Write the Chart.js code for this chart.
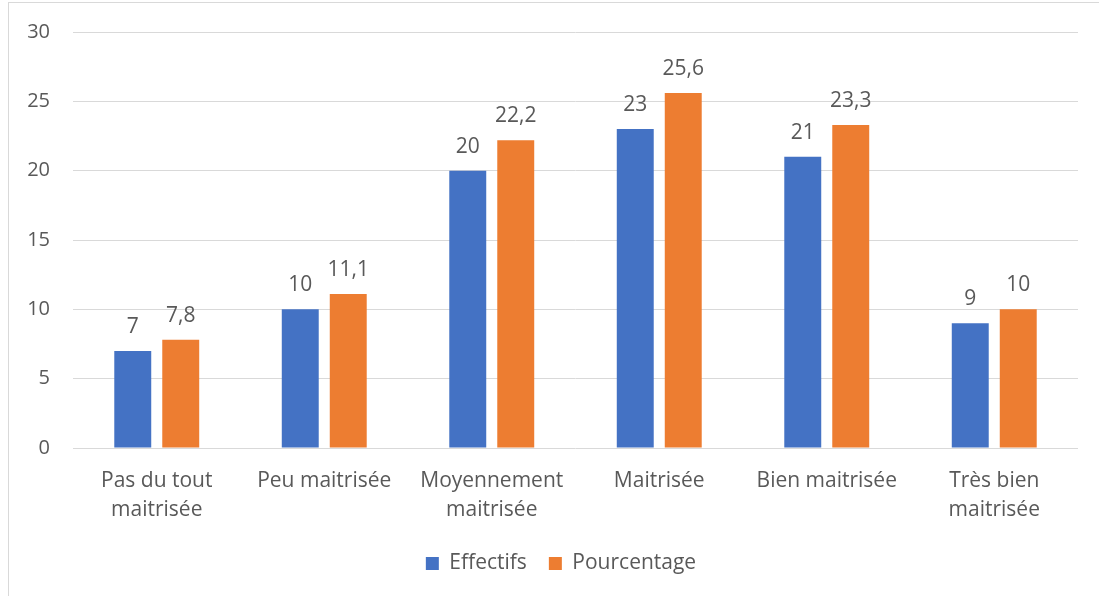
<!DOCTYPE html>
<html>
<head>
<meta charset="utf-8">
<script src="https://cdn.jsdelivr.net/npm/chart.js@4/dist/chart.umd.min.js"></script>
<style>
    html, body { margin: 0; padding: 0; background: #fff; overflow: hidden; }
    #wrap { position: relative; width: 1099px; height: 596px; }
    #frame { position: absolute; left: 8px; top: 2px; width: 2000px; height: 2000px; border: 1px solid #d9d9d9; }
    canvas { position: absolute; left: 0; top: 0; }
</style>
</head>
<body>
<div id="wrap">
    <div id="frame"></div>
    <canvas id="myChart" width="1099" height="596"></canvas>
</div>
<script>
const categories = [
    ['Pas du tout', 'maitrisée'],
    'Peu maitrisée',
    ['Moyennement', 'maitrisée'],
    'Maitrisée',
    'Bien maitrisée',
    ['Très bien', 'maitrisée']
];
const effectifs = [7, 10, 20, 23, 21, 9];
const pourcentage = [7.8, 11.1, 22.2, 25.6, 23.3, 10];
const yTicks = [0, 5, 10, 15, 20, 25, 30];

const FONT = "'Open Sans', sans-serif";
const TEXT = '#595959';

// value labels above each bar, french decimal comma
const barLabels = {
    id: 'barLabels',
    afterDatasetsDraw( chart ) {
        const ctx = chart.ctx;
        ctx.save();
        ctx.font = '21px ' + FONT;
        ctx.fillStyle = TEXT;
        ctx.textAlign = 'center';
        ctx.textBaseline = 'middle';
        chart.data.datasets.forEach( ( ds, i ) => {
            chart.getDatasetMeta( i ).data.forEach( ( bar, j ) => {
                const txt = String( ds.data[j] ).replace( '.', ',' );
                ctx.fillText( txt, bar.x, bar.y - 24 );
            });
        });
        ctx.restore();
    }
};

// the frame runs past the window, the legend is centred on it
const legendShift = {
    id: 'legendShift',
    afterLayout( chart ) {
        const lg = chart.legend;
        if ( !lg ) return;
        const dx = 561 - ( lg.left + lg.right ) / 2;
        lg.left += dx;
        lg.right += dx;
    }
};

const ctx = document.getElementById('myChart');

new Chart(ctx, {
    type: 'bar',
    data: {
        labels: categories,
        datasets: [
            {
                label: 'Effectifs',
                data: effectifs,
                backgroundColor: '#4472C4',
                categoryPercentage: 0.573,
                barPercentage: 0.77
            },
            {
                label: 'Pourcentage',
                data: pourcentage,
                backgroundColor: '#ED7D31',
                categoryPercentage: 0.573,
                barPercentage: 0.77
            }
        ]
    },
    options: {
        responsive: false,
        animation: false,
        layout: {
            padding: { left: 0, right: 21, top: 32, bottom: 12 }
        },
        plugins: {
            legend: {
                position: 'bottom',
                labels: {
                    boxWidth: 13,
                    boxHeight: 13,
                    padding: 22,
                    color: TEXT,
                    font: { family: FONT, size: 21 }
                }
            },
            tooltip: { enabled: false }
        },
        scales: {
            x: {
                grid: { display: false },
                border: { display: false },
                ticks: {
                    color: TEXT,
                    padding: 10,
                    maxRotation: 0,
                    autoSkip: false,
                    font: { family: FONT, size: 21, lineHeight: 1.4 }
                },
                afterFit( scale ) { scale.height = 83; }
            },
            y: {
                min: 0,
                max: 30,
                afterBuildTicks( scale ) {
                    scale.ticks = yTicks.map( v => ({ value: v }) );
                },
                grid: { color: '#d9d9d9', lineWidth: 1, drawTicks: false },
                border: { display: false },
                ticks: {
                    color: TEXT,
                    padding: 23,
                    font: { family: FONT, size: 20 }
                },
                afterFit( scale ) {
                    scale.width = 73;
                    scale.paddingTop = 0;
                    scale.paddingBottom = 0;
                }
            }
        }
    },
    plugins: [ barLabels, legendShift ]
});
</script>
</body>
</html>
